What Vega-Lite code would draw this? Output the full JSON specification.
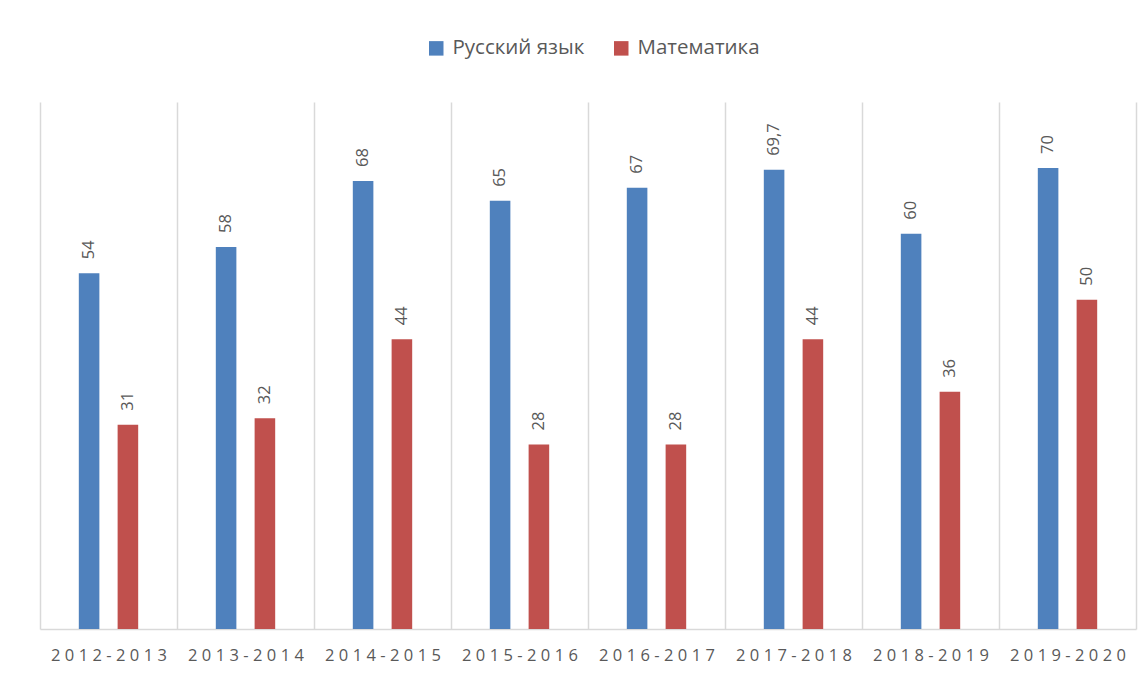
{
  "$schema": "https://vega.github.io/schema/vega-lite/v6.json",
  "width": 1096,
  "height": 527,
  "autosize": "none",
  "padding": {"left": 40, "top": 102, "right": 10, "bottom": 53},
  "background": "white",
  "config": {
    "view": {"stroke": null},
    "font": "Open Sans",
    "locale": {"number": {"decimal": ",", "thousands": " ", "grouping": [3], "currency": ["", " ₽"]}}
  },
  "data": {
    "values": [
      {"season": "2012-2013", "subject": "Русский язык", "value": 54},
      {"season": "2012-2013", "subject": "Математика", "value": 31},
      {"season": "2013-2014", "subject": "Русский язык", "value": 58},
      {"season": "2013-2014", "subject": "Математика", "value": 32},
      {"season": "2014-2015", "subject": "Русский язык", "value": 68},
      {"season": "2014-2015", "subject": "Математика", "value": 44},
      {"season": "2015-2016", "subject": "Русский язык", "value": 65},
      {"season": "2015-2016", "subject": "Математика", "value": 28},
      {"season": "2016-2017", "subject": "Русский язык", "value": 67},
      {"season": "2016-2017", "subject": "Математика", "value": 28},
      {"season": "2017-2018", "subject": "Русский язык", "value": 69.7},
      {"season": "2017-2018", "subject": "Математика", "value": 44},
      {"season": "2018-2019", "subject": "Русский язык", "value": 60},
      {"season": "2018-2019", "subject": "Математика", "value": 36},
      {"season": "2019-2020", "subject": "Русский язык", "value": 70},
      {"season": "2019-2020", "subject": "Математика", "value": 50}
    ]
  },
  "encoding": {
    "x": {
      "field": "season",
      "type": "nominal",
      "sort": null,
      "scale": {"paddingInner": 0, "paddingOuter": 0},
      "axis": {
        "title": null,
        "labelAngle": 0,
        "ticks": false,
        "grid": true,
        "tickBand": "extent",
        "gridColor": "#D9D9D9",
        "gridWidth": 1.5,
        "domainColor": "#D9D9D9",
        "domainWidth": 1.5,
        "labelFontSize": 16.5,
        "labelColor": "#595959",
        "labelPadding": 18,
        "labelFont": "Open Sans",
        "labelExpr": "replace(datum.label, regexp('(.)(?!$)', 'g'), '$1\u2009\u200A')"
      }
    },
    "xOffset": {
      "field": "subject",
      "type": "nominal",
      "sort": ["Русский язык", "Математика"],
      "scale": {"paddingInner": 0.47, "paddingOuter": 1.14}
    },
    "y": {
      "field": "value",
      "type": "quantitative",
      "scale": {"domain": [0, 80]},
      "axis": null
    }
  },
  "layer": [
    {
      "mark": {"type": "bar"},
      "encoding": {
        "color": {
          "field": "subject",
          "type": "nominal",
          "scale": {"domain": ["Русский язык", "Математика"], "range": ["#4F81BD", "#C0504D"]},
          "legend": {
            "title": null,
            "orient": "none",
            "legendX": 386,
            "legendY": -64,
            "direction": "horizontal",
            "symbolType": "square",
            "symbolSize": 210,
            "symbolStrokeWidth": 0,
            "labelFontSize": 20.5,
            "labelColor": "#595959",
            "labelFont": "Open Sans",
            "labelOffset": 6,
            "columnPadding": 26
          }
        }
      }
    },
    {
      "mark": {"type": "text", "angle": 270, "align": "left", "baseline": "middle", "dx": 14, "fontSize": 16.5, "color": "#595959"},
      "encoding": {
        "text": {"field": "value", "type": "quantitative", "format": "~g"}
      }
    }
  ]
}
